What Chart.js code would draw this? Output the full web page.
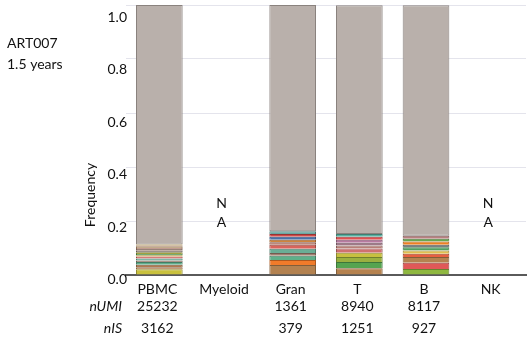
<!DOCTYPE html>
<html>
<head>
<meta charset="utf-8">
<script src="https://cdn.jsdelivr.net/npm/chart.js@4/dist/chart.umd.min.js"></script>
<style>
html,body{margin:0;padding:0;background:#fff;}
#wrap{width:528px;height:337px;position:relative;}
</style>
</head>
<body>
<div id="wrap"><canvas id="c" width="528" height="337"></canvas></div>
<script>
// ---- data ----
const categories = ['PBMC', 'Myeloid', 'Gran', 'T', 'B', 'NK'];
const nUMI = ['25232', '', '1361', '8940', '8117', ''];
const nIS = ['3162', '', '379', '1251', '927', ''];
const notAvailable = [false, true, false, false, false, true];
const yTicks = [0, 0.2, 0.4, 0.6, 0.8, 1.0];

// clone frequencies, listed from the bottom of each bar upward
const pbmcClones = [0.021, 0.0074, 0.010, 0.010, 0.005, 0.0074, 0.0074, 0.005, 0.005, 0.006, 0.006, 0.006, 0.004, 0.004, 0.005, 0.004];
const granClones = [0.037, 0.0185, 0.016, 0.010, 0.016, 0.015, 0.0085, 0.010, 0.011, 0.010, 0.010];
const tClones = [0.025, 0.023, 0.0185, 0.016, 0.016, 0.011, 0.010, 0.011, 0.011, 0.010];
const bClones = [0.022, 0.0235, 0.021, 0.012, 0.012, 0.012, 0.010, 0.012, 0.010, 0.011];
// remaining (all other clones) frequency per category
const otherFreq = [0.887, null, 0.838, 0.848, 0.854, null];

// ---- styles ----
const pbmcColors = ['#c9c13e', '#b8875a', '#b07a50', '#5fae8c', '#9a8070', '#62b09a', '#e05a55', '#e8c840', '#50a050', '#a0a040', '#8a7a70', '#a08070', '#c08878', '#c0a070', '#a07050', '#d8a830'];
const granColors = ['#b38250', '#f07b2a', '#5fb08a', '#a08070', '#6aae96', '#d8645c', '#b07060', '#d0843c', '#4a70a8', '#d04a48', '#6aa6a0'];
const tColors = ['#b5824f', '#55a450', '#9ab040', '#c8c040', '#d07070', '#b88078', '#a07888', '#b87aa0', '#e05050', '#58b0a0'];
const bColors = ['#8fb840', '#e05858', '#b5824f', '#e86040', '#e0c050', '#50a060', '#7a8080', '#f08020', '#68a850', '#b88080'];
const otherColor = '#b9b0ab';

function darken(hex, f) {
  const n = parseInt(hex.slice(1), 16);
  const r = Math.round(((n >> 16) & 255) * f), g = Math.round(((n >> 8) & 255) * f), b = Math.round((n & 255) * f);
  return 'rgb(' + r + ',' + g + ',' + b + ')';
}

const stacks = [pbmcClones, null, granClones, tClones, bClones, null];
const stackColors = [pbmcColors, null, granColors, tColors, bColors, null];
const levels = Math.max(...stacks.map(s => s ? s.length : 0));

const datasets = [];
for (let i = 0; i < levels; i++) {
  const cols = stackColors.map(c => (c && c[i]) ? c[i] : '#000000');
  datasets.push({
    label: 'clone ' + (i + 1),
    data: stacks.map(s => (s && s[i] != null) ? s[i] : null),
    backgroundColor: cols,
    borderColor: cols.map(c => darken(c, 0.72)),
    borderWidth: { top: 1, bottom: 0, left: 1, right: 1 },
    borderSkipped: false
  });
}
datasets.push({
  label: 'other',
  data: otherFreq,
  backgroundColor: otherColor,
  borderColor: '#8a827e',
  borderWidth: 1,
  borderSkipped: false
});

const FONT = '14px Lato, "Open Sans", sans-serif';
const textPlugin = {
  id: 'texts',
  afterDraw(chart) {
    const ctx = chart.ctx;
    const x = chart.scales.x, y = chart.scales.y;
    ctx.save();
    ctx.fillStyle = '#111';
    ctx.font = FONT;
    ctx.textBaseline = 'middle';
    // y tick labels
    ctx.textAlign = 'right';
    yTicks.forEach(v => {
      ctx.fillText(v.toFixed(1), 127, y.getPixelForValue(v) + 4.5 + 8 * v);
    });
    // left notes
    ctx.textAlign = 'left';
    ctx.fillText('ART007', 7, 43);
    ctx.fillText('1.5 years', 7, 64);
    // axis title
    ctx.save();
    ctx.translate(90, 195);
    ctx.rotate(-Math.PI / 2);
    ctx.textAlign = 'center';
    ctx.fillText('Frequency', 0, 0);
    ctx.restore();
    // category rows
    ctx.textAlign = 'center';
    categories.forEach((c, i) => {
      const cx = x.getPixelForValue(i) - 2;
      ctx.fillText(c, cx, 289);
      if (nUMI[i]) ctx.fillText(nUMI[i], cx, 306);
      if (nIS[i]) ctx.fillText(nIS[i], cx, 328);
      if (notAvailable[i]) {
        ctx.fillText('N', cx - 2.5, 203);
        ctx.fillText('A', cx - 2.5, 222);
      }
    });
    ctx.textAlign = 'right';
    ctx.font = 'italic ' + FONT;
    ctx.fillText('nUMI', 122, 306);
    ctx.fillText('nIS', 122, 328);
    ctx.restore();
  }
};

new Chart(document.getElementById('c'), {
  type: 'bar',
  data: { labels: categories, datasets },
  options: {
    responsive: false,
    animation: false,
    layout: { padding: { left: 0, right: 2, top: 5, bottom: 0 } },
    datasets: { bar: { categoryPercentage: 1.0, barPercentage: 0.70 } },
    plugins: { legend: { display: false }, tooltip: { enabled: false } },
    scales: {
      x: {
        stacked: true,
        grid: { display: false, drawTicks: false },
        ticks: { display: false },
        border: { display: true, color: '#5a5a5a', width: 2 },
        afterFit(s) { s.height = 62; }
      },
      y: {
        stacked: true,
        min: 0, max: 1,
        ticks: { display: false, stepSize: 0.2 },
        grid: { color: '#e4e4ec', lineWidth: 1, drawTicks: false },
        border: { display: false },
        afterFit(s) { s.width = 126; }
      }
    }
  },
  plugins: [textPlugin]
});
</script>
</body>
</html>
